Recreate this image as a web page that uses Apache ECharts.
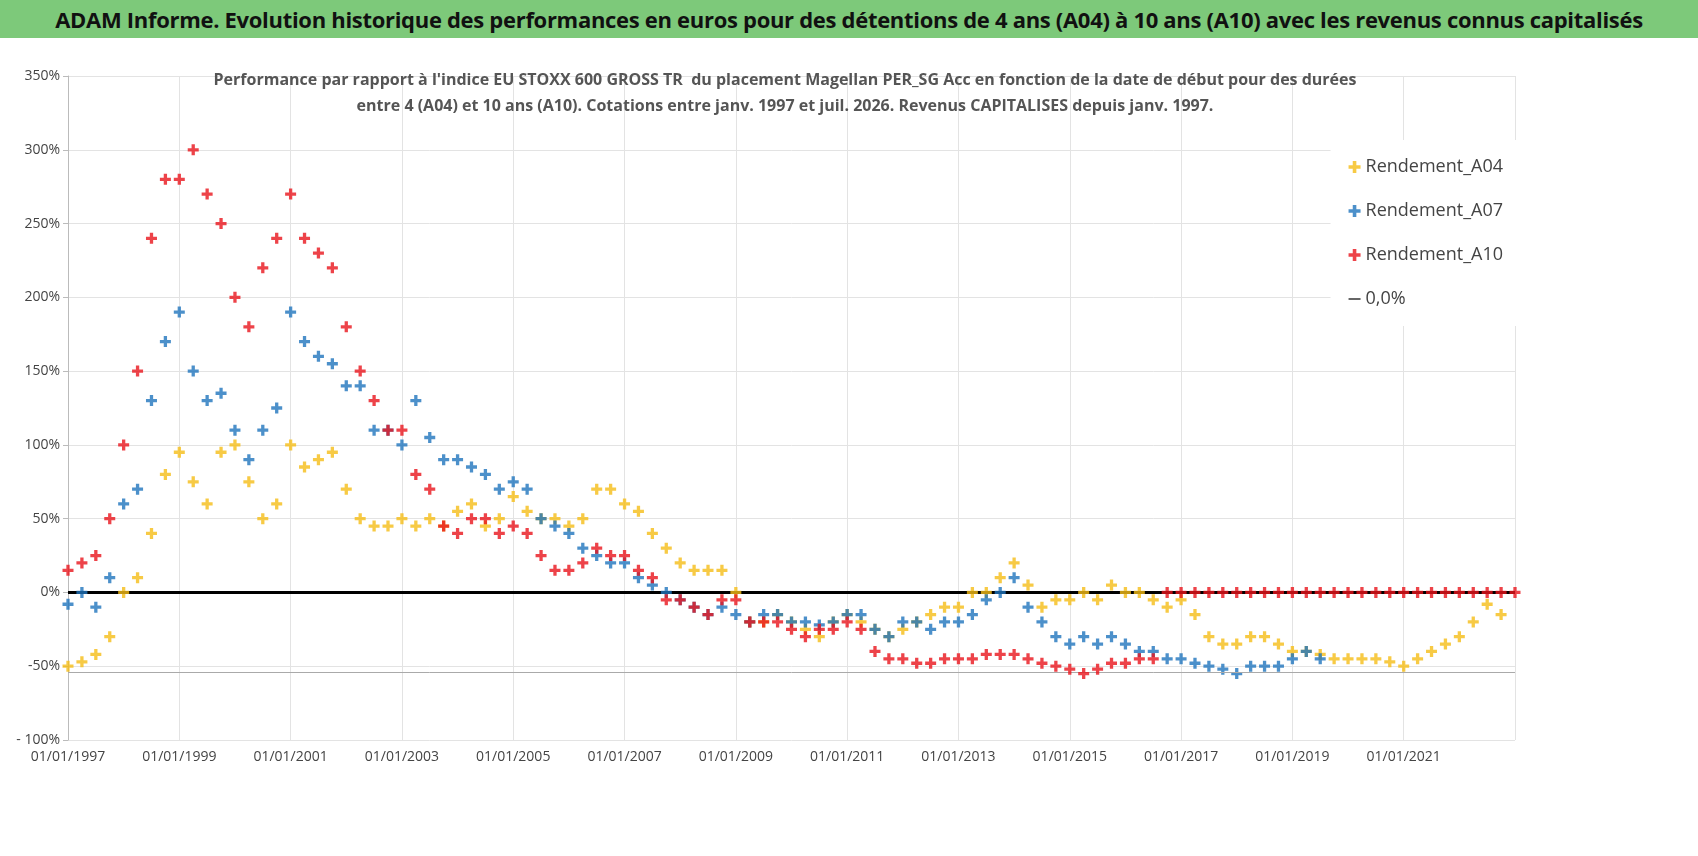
<!DOCTYPE html>
<html lang="fr">
<head>
<meta charset="UTF-8">
<title>ADAM Informe</title>
<script src="https://cdn.jsdelivr.net/npm/echarts@6/dist/echarts.min.js"></script>
<style>
  html, body { margin: 0; padding: 0; background: #fff; }
  #page { width: 1698px; height: 856px; position: relative; overflow: hidden; }
  .bandeau { position: absolute; left: 0; top: 0; width: 1698px; height: 38px; background: #7dc97a;
    font-family: "Open Sans", "Liberation Sans", sans-serif; font-weight: bold; font-size: 22px; color: #111;
    line-height: 38px; text-align: center; letter-spacing: -0.3px; }
  #main { position: absolute; left: 0; top: 40px; width: 1698px; height: 816px; }
</style>
</head>
<body>
<div id="page">
  <div class="bandeau">ADAM Informe. Evolution historique des performances en euros pour des détentions de 4 ans (A04) à 10 ans (A10) avec les revenus connus capitalisés</div>
  <div id="main"></div>
</div>
<script>
// valeurs trimestrielles (%)
var debut = 1997;
var pas = 0.25;
var rendA04 = [-50,-47,-42,-30, 0,10,40,80, 95,75,60,95, 100,75,50,60, 100,85,90,95, 70,50,45,45,
  50,45,50,45, 55,60,45,50, 65,55,50,50, 45,50,70,70, 60,55,40,30, 20,15,15,15, 0,-20,-20,-15,
  -20,-25,-30,-20, -15,-20,-25,-30, -25,-20,-15,-10, -10,0,0,10, 20,5,-10,-5, -5,0,-5,5,
  0,0,-5,-10, -5,-15,-30,-35, -35,-30,-30,-35, -40,-40,-42,-45, -45,-45,-45,-47, -50,-45,-40,-35,
  -30,-20,-8,-15];
var rendA07 = [-8,0,-10,10, 60,70,130,170, 190,150,130,135, 110,90,110,125, 190,170,160,155, 140,140,110,110,
  100,130,105,90, 90,85,80,70, 75,70,50,45, 40,30,25,20, 20,10,5,0, -5,-10,-15,-10, -15,-20,-15,-15,
  -20,-20,-22,-20, -15,-15,-25,-30, -20,-20,-25,-20, -20,-15,-5,0, 10,-10,-20,-30, -35,-30,-35,-30,
  -35,-40,-40,-45, -45,-48,-50,-52, -55,-50,-50,-50, -45,-40,-45];
var rendA10 = [15,20,25,50, 100,150,240,280, 280,300,270,250, 200,180,220,240, 270,240,230,220, 180,150,130,110,
  110,80,70,45, 40,50,50,40, 45,40,25,15, 15,20,30,25, 25,15,10,-5, -5,-10,-15,-5, -5,-20,-20,-20,
  -25,-30,-25,-25, -20,-25,-40,-45, -45,-48,-48,-45, -45,-45,-42,-42, -42,-45,-48,-50, -52,-55,-52,-48,
  -48,-45,-45,0, 0,0,0,0, 0,0,0,0, 0,0,0,0, 0,0,0,0, 0,0,0,0, 0,0,0,0, 0,0,0,0];
var niveauGris = -54;

function serie(vals) {
  return vals.map(function (v, i) { return [debut + i * pas, v]; });
}
var croix = 'path://M3.5,0H6.5V3.5H10V6.5H6.5V10H3.5V6.5H0V3.5H3.5Z';
var trait = 'path://M0,0H10V1H0Z';
var police = '"Open Sans", "Liberation Sans", sans-serif';

var myChart = echarts.init(document.getElementById('main'));
var option = {
  animation: false,
  title: {
    text: "Performance par rapport à l'indice EU STOXX 600 GROSS TR  du placement Magellan PER_SG Acc en fonction de la date de début pour des durées\nentre 4 (A04) et 10 ans (A10). Cotations entre janv. 1997 et juil. 2026. Revenus CAPITALISES depuis janv. 1997.",
    left: 780, top: 22, textAlign: 'center',
    textStyle: { fontFamily: police, fontSize: 16, fontWeight: 'bold', color: '#555', lineHeight: 26 }
  },
  grid: { left: 68, right: 183, top: 36, bottom: 116 },
  legend: {
    orient: 'vertical', right: 155, top: 100, itemGap: 26,
    backgroundColor: '#fff', padding: [18, 40, 18, 18],
    textStyle: { fontFamily: police, fontSize: 18, color: '#444' },
    data: [
      { name: 'Rendement_A04', icon: croix },
      { name: 'Rendement_A07', icon: croix },
      { name: 'Rendement_A10', icon: croix },
      { name: '0,0%', icon: trait, itemStyle: { color: '#000' } }
    ],
    itemWidth: 12, itemHeight: 12
  },
  xAxis: {
    type: 'value', min: 1997, max: 2023, interval: 2,
    axisLine: { show: true, lineStyle: { color: '#bbb' } },
    axisTick: { show: false },
    splitLine: { show: true, lineStyle: { color: '#e3e3e3' } },
    axisLabel: { fontFamily: police, fontSize: 14, color: '#444', margin: 10,
      formatter: function (v) { return v === 2023 ? '' : '01/01/' + v; } }
  },
  yAxis: {
    type: 'value', min: -100, max: 350, interval: 50,
    axisLine: { show: true, lineStyle: { color: '#bbb' } },
    splitLine: { show: true, lineStyle: { color: '#e3e3e3' } },
    axisLabel: { fontFamily: police, fontSize: 14, color: '#444',
      formatter: function (v) { return v === -100 ? '- 100%' : v + '%'; } }
  },
  series: [
    { name: 'Rendement_A04', type: 'scatter', symbol: croix, symbolSize: 11,
      itemStyle: { color: '#f5bd17' }, data: serie(rendA04), z: 3 },
    { name: 'Rendement_A07', type: 'scatter', symbol: croix, symbolSize: 11,
      itemStyle: { color: '#1f74bd' }, data: serie(rendA07), z: 4 },
    { name: 'Rendement_A10', type: 'scatter', symbol: croix, symbolSize: 11,
      itemStyle: { color: '#e8141b' }, data: serie(rendA10), z: 5 },
    { name: '0,0%', type: 'line', data: [[1997, 0], [2023, 0]], symbol: 'none',
      lineStyle: { color: '#000', width: 3 }, itemStyle: { color: '#000' }, z: 2,
      markLine: { silent: true, symbol: 'none', label: { show: false },
        lineStyle: { color: '#aaa', type: 'solid', width: 1 }, data: [{ yAxis: niveauGris }] } }
  ]
};
myChart.setOption(option);
</script>
</body>
</html>
